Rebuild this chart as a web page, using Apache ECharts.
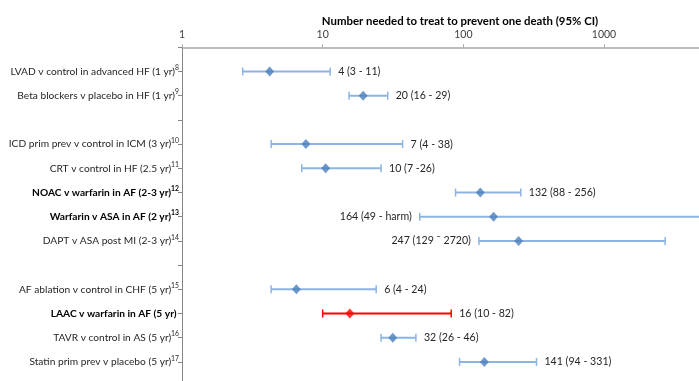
<!DOCTYPE html>
<html><head><meta charset="utf-8">
<script src="https://cdn.jsdelivr.net/npm/echarts@6/dist/echarts.min.js"></script>
<style>html,body{margin:0;padding:0;background:#fff}#c{width:699px;height:381px}</style>
</head><body><div id="c"></div>
<script>
// Rows (top to bottom); empty strings are blank spacer rows
const categories = [
  'LVAD v control in advanced HF (1 yr)',
  'Beta blockers v placebo in HF (1 yr)',
  '',
  'ICD prim prev v control in ICM (3 yr)',
  'CRT v control in HF (2.5 yr)',
  'NOAC v warfarin in AF (2-3 yr)',
  'Warfarin v ASA in AF (2 yr)',
  'DAPT v ASA post MI (2-3 yr)',
  '',
  'AF ablation v control in CHF (5 yr)',
  'LAAC v warfarin in AF (5 yr) ',
  'TAVR v control in AS (5 yr)',
  'Statin prim prev v placebo (5 yr)'
];
const refs = ['8', '9', '', '10', '11', '12', '13', '14', '', '15', '', '16', '17'];
const boldRows = [false, false, false, false, false, true, true, false, false, false, true, false, false];
// NNT point estimates and 95% CI (null upper = harm, unbounded)
const nnt   = [4.2, 19.4, null, 7.6, 10.5, 132, 164, 247, null, 6.5, 15.6, 31.5, 141];
const lower = [2.7, 15.4, null, 4.3, 7.1, 88, 49, 129, null, 4.3, 10, 26, 94];
const upper = [11.3, 29, null, 37, 26, 256, null, 2720, null, 24, 82, 46, 331];
const labels = ['4 (3 - 11)', '20 (16 - 29)', '', '7 (4 - 38)', '10 (7 -26)', '132 (88 - 256)',
  '164 (49 - harm)', '247 (129 \u02C9 2720)', '', '6 (4 - 24)', '16 (10 - 82)', '32 (26 - 46)', '141 (94 - 331)'];
const highlight = [false, false, false, false, false, false, false, false, false, false, true, false, false];
const labelLeft = [false, false, false, false, false, false, true, true, false, false, false, false, false];
const xTicks = [1, 10, 100, 1000, 10000];

const X_MIN = xTicks[0], X_MAX = xTicks[xTicks.length - 1];
const FONT = 'Lato';
const BLUE_LINE = '#8db4e2', BLUE_PT = '#4a7ebb', RED = '#ff0000';

const rows = [];
const pts = [];
for (let i = 0; i < categories.length; i++) {
  if (nnt[i] == null) continue;
  rows.push({ value: [lower[i], upper[i] == null ? X_MAX : upper[i], i + 1, i] });
  pts.push({ value: [nnt[i], i + 1], itemStyle: { color: highlight[i] ? RED : BLUE_PT } });
}

const chart = echarts.init(document.getElementById('c'), null, { renderer: 'canvas' });
chart.setOption({
  animation: false,
  title: {
    text: 'Number needed to treat to prevent one death (95% CI)',
    left: 455, top: 11, textAlign: 'center',
    textStyle: { fontFamily: FONT, fontSize: 11.4, fontWeight: 'bold', color: '#000' }
  },
  grid: { left: 182, top: 47.3, width: 562.7, height: 338.8, containLabel: false, outerBoundsMode: 'none' },
  xAxis: {
    type: 'log', logBase: 10, min: X_MIN, max: X_MAX, position: 'top',
    axisLine: { lineStyle: { color: '#a6a6a6', width: 1.5 } },
    axisTick: { show: true, length: 3, lineStyle: { color: '#a6a6a6' } },
    axisLabel: {
      fontFamily: FONT, fontSize: 10.5, color: '#404040', margin: 7, showMaxLabel: false,
      formatter: function (v) { return v >= X_MAX ? '' : String(v); }
    },
    splitLine: { show: false }
  },
  yAxis: {
    type: 'value', inverse: true, min: 0, max: 14, interval: 1,
    axisLine: { show: true, lineStyle: { color: '#868686', width: 1 } },
    axisTick: { show: true, length: 4, lineStyle: { color: '#868686' } },
    splitLine: { show: false },
    axisLabel: {
      margin: 3,
      formatter: function (v) {
        const i = v - 1;
        if (i < 0 || i >= categories.length || !categories[i]) return '';
        const st = boldRows[i] ? 'b' : 'n';
        return '{' + st + '|' + categories[i] + '}' + (refs[i] ? '{' + (boldRows[i] ? 'sb' : 's') + '|' + refs[i] + '}' : '');
      },
      rich: {
        n: { fontFamily: FONT, fontSize: 10.2, color: '#262626', lineHeight: 14 },
        b: { fontFamily: FONT, fontSize: 10.2, color: '#000', fontWeight: 'bold', lineHeight: 14 },
        s: { fontFamily: FONT, fontSize: 6.8, color: '#262626', lineHeight: 7, verticalAlign: 'top' },
        sb: { fontFamily: FONT, fontSize: 6.8, color: '#000', fontWeight: 'bold', lineHeight: 7, verticalAlign: 'top' }
      }
    }
  },
  series: [
    {
      type: 'custom',
      data: rows,
      clip: false,
      renderItem: function (params, api) {
        const lo = api.value(0), hi = api.value(1), r = api.value(2), idx = api.value(3);
        const p1 = api.coord([lo, r]), p2 = api.coord([hi, r]);
        const col = highlight[idx] ? RED : BLUE_LINE;
        const cap = 4;
        const st = { stroke: col, lineWidth: 2 };
        const children = [
          { type: 'line', shape: { x1: p1[0], y1: p1[1], x2: p2[0], y2: p2[1] }, style: st },
          { type: 'line', shape: { x1: p1[0], y1: p1[1] - cap, x2: p1[0], y2: p1[1] + cap }, style: { stroke: col, lineWidth: 1.5 } },
          { type: 'line', shape: { x1: p2[0], y1: p2[1] - cap, x2: p2[0], y2: p2[1] + cap }, style: { stroke: col, lineWidth: 1.5 } }
        ];
        const left = labelLeft[idx];
        children.push({
          type: 'text',
          style: {
            text: labels[idx],
            x: left ? p1[0] - 8 : p2[0] + 8, y: p1[1],
            align: left ? 'right' : 'left', verticalAlign: 'middle',
            font: '10.6px ' + FONT, fill: '#262626'
          }
        });
        return { type: 'group', children: children };
      },
      z: 2
    },
    {
      type: 'scatter',
      data: pts,
      symbol: 'diamond',
      symbolSize: [9, 10],
      z: 3
    }
  ]
});
</script>
</body></html>
